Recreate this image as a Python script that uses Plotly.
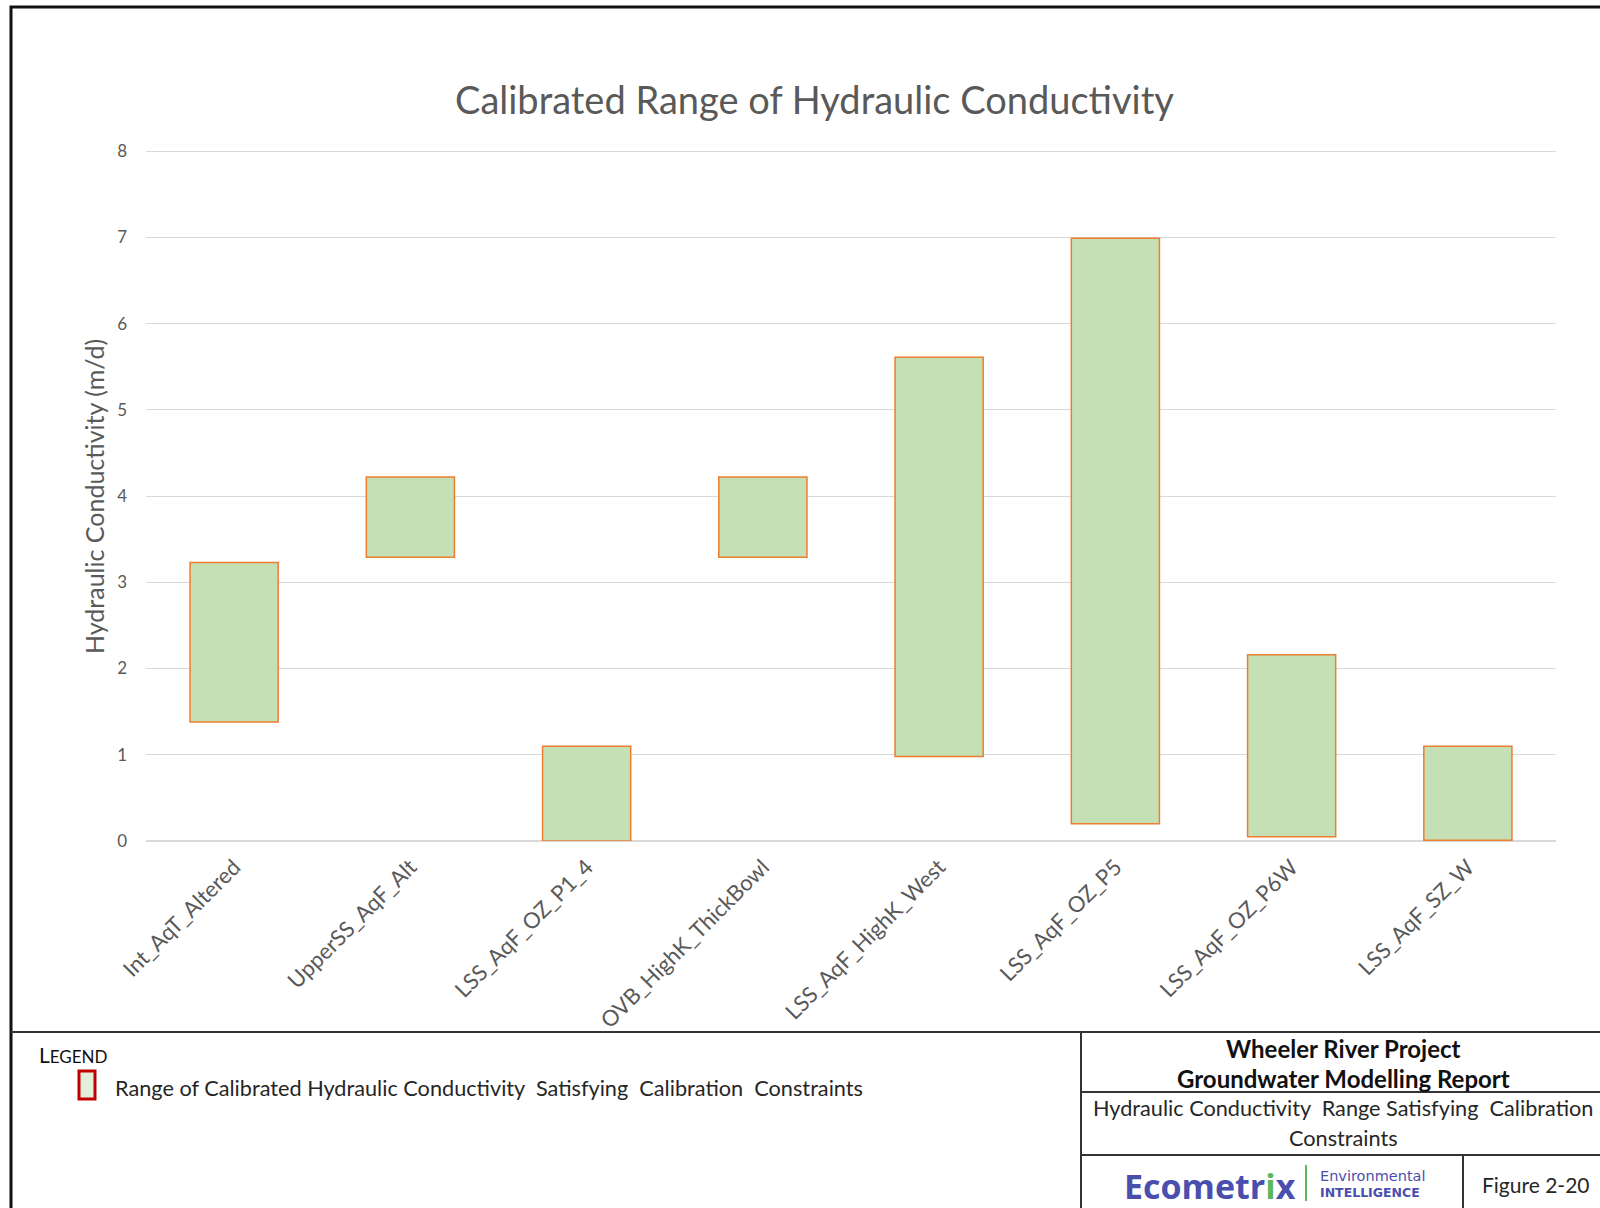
import plotly.graph_objects as go

# ---- data ----
categories = ["Int_AqT_Altered", "UpperSS_AqF_Alt", "LSS_AqF_OZ_P1_4", "OVB_HighK_ThickBowl",
              "LSS_AqF_HighK_West", "LSS_AqF_OZ_P5", "LSS_AqF_OZ_P6W", "LSS_AqF_SZ_W"]
k_min = [1.38, 3.29, 0.0, 3.29, 0.98, 0.20, 0.05, 0.01]
k_max = [3.23, 4.22, 1.10, 4.22, 5.61, 6.99, 2.16, 1.10]
y_ticks = [0, 1, 2, 3, 4, 5, 6, 7, 8]

W, H = 1600, 1208
Y_TOP = 8.06
L, R, B = 146, 1556, 841
T = round(B - 690 * Y_TOP / 8)

def px(x):
    return (x - L) / (R - L)

def py(y):
    return (B - y) / (B - T)

FONT = "Lato"
GRAY = "#595959"

fig = go.Figure()
fig.add_trace(go.Bar(
    x=categories,
    y=[hi - lo for lo, hi in zip(k_min, k_max)],
    base=k_min,
    marker=dict(color="#c5e0b4", line=dict(color="#ed7d31", width=1.5)),
    hoverinfo="x+y",
    showlegend=False,
))

shapes = []
def line(x0, y0, x1, y1, w=2, c="#333333"):
    shapes.append(dict(type="line", xref="paper", yref="paper",
                       x0=px(x0), y0=py(y0), x1=px(x1), y1=py(y1),
                       line=dict(color=c, width=w)))

# outer frame
shapes.append(dict(type="rect", xref="paper", yref="paper",
                   x0=px(11), y0=py(7), x1=px(1620), y1=py(1230),
                   line=dict(color="#111111", width=3), fillcolor="rgba(0,0,0,0)"))
line(11, 1032, 1620, 1032)
line(1081, 1032, 1081, 1230)
line(1081, 1092, 1620, 1092)
line(1081, 1155, 1620, 1155)
line(1463, 1155, 1463, 1230)
# logo divider
line(1306, 1165, 1306, 1201, w=2, c="#5cb85c")
# legend marker
shapes.append(dict(type="rect", xref="paper", yref="paper",
                   x0=px(79), y0=py(1071), x1=px(95), y1=py(1099),
                   line=dict(color="#c00000", width=3), fillcolor="#e2efda"))

annotations = []
def text(x, y, s, size, color="#262626", xanchor="center", yanchor="middle", angle=0, family=FONT):
    annotations.append(dict(xref="paper", yref="paper", x=px(x), y=py(y), text=s,
                            showarrow=False, xanchor=xanchor, yanchor=yanchor,
                            textangle=angle, font=dict(family=family, size=size, color=color)))

text(814, 99, "Calibrated Range of Hydraulic Conductivity", 38, GRAY)
text(94, 497, "Hydraulic Conductivity (m/d)", 25, GRAY, angle=-90)
text(37, 1054, "<span style='font-size:21px'>L</span>EGEND", 17, "#111111", xanchor="left")
text(113, 1088, "Range of Calibrated Hydraulic Conductivity  Satisfying  Calibration  Constraints", 21.7, "#262626", xanchor="left")
text(1343, 1048, "<b>Wheeler River Project</b>", 24, "#111111")
text(1343, 1078, "<b>Groundwater Modelling Report</b>", 24, "#111111")
text(1343, 1108, "Hydraulic Conductivity  Range Satisfying  Calibration", 21.7, "#262626")
text(1343, 1138, "Constraints", 21.7, "#262626")
text(1210, 1186, "Ecometr<span style='color:#5cb85c'>i</span>x", 34, "#4a4fae", family="Open Sans")
annotations[-1]["font"]["weight"] = 700
text(1318, 1176, "Environmental", 14.5, "#4a4fae", xanchor="left", family="DejaVu Sans")
text(1318, 1192, "<b>INTELLIGENCE</b>", 12.5, "#4a4fae", xanchor="left", family="DejaVu Sans")
text(1536, 1184, "Figure 2-20", 21, "#262626")

fig.update_layout(
    width=W, height=H,
    margin=dict(l=L, r=W - R, t=T, b=H - B, pad=0),
    paper_bgcolor="white", plot_bgcolor="white",
    bargap=0.5,
    font=dict(family=FONT, color=GRAY),
    xaxis=dict(tickangle=-45, tickfont=dict(size=22, color=GRAY, family=FONT),
               showline=False, showgrid=False, ticks="", ticklen=0, fixedrange=True,
               ticklabelstandoff=8),
    yaxis=dict(range=[0, Y_TOP], tickvals=y_ticks, tickfont=dict(size=17, color=GRAY, family=FONT),
               showgrid=True, gridcolor="#d9d9d9", gridwidth=1, zeroline=True,
               zerolinecolor="#d9d9d9", zerolinewidth=1.5, showline=False, ticks="",
               ticklabelstandoff=18, fixedrange=True),
    shapes=shapes,
    annotations=annotations,
)

fig.write_html("out.html", config={"displayModeBar": False},
               post_script="document.body.style.margin='0';document.body.style.overflow='hidden';")
